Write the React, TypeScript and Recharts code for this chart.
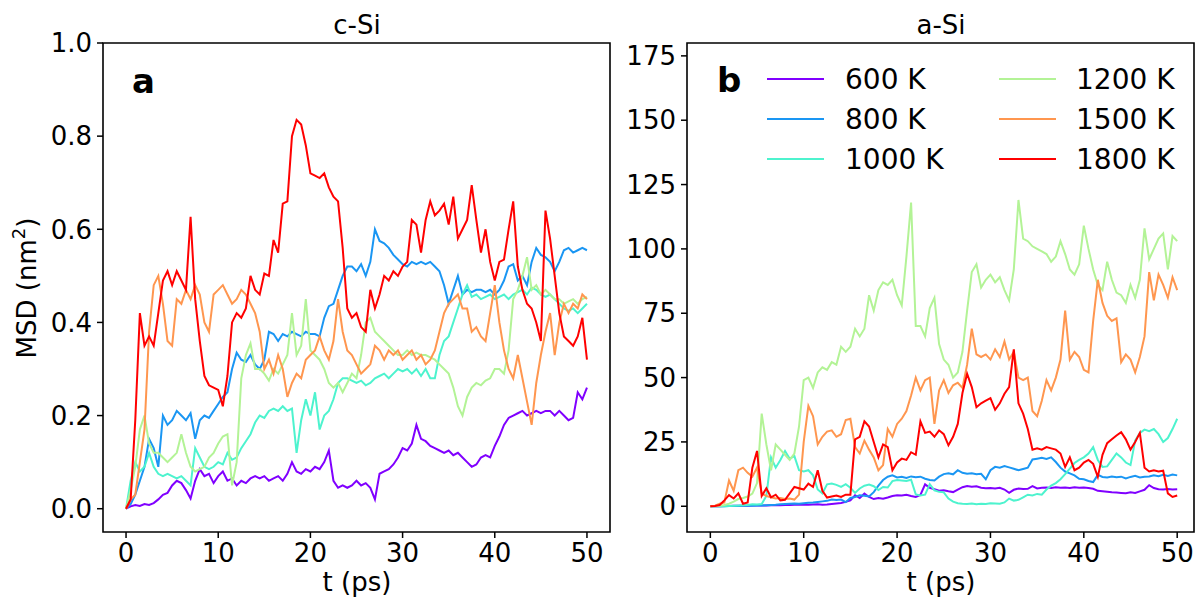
import { LineChart, Line, XAxis, YAxis, ReferenceArea } from 'recharts';

// time axis (ps), sampled every 0.5 ps
const time = [
  0, 0.5, 1, 1.5, 2, 2.5, 3, 3.5, 4, 4.5, 5, 5.5, 6, 6.5, 7, 7.5, 8, 8.5, 9, 9.5,
  10, 10.5, 11, 11.5, 12, 12.5, 13, 13.5, 14, 14.5, 15, 15.5, 16, 16.5, 17, 17.5, 18, 18.5, 19, 19.5,
  20, 20.5, 21, 21.5, 22, 22.5, 23, 23.5, 24, 24.5, 25, 25.5, 26, 26.5, 27, 27.5, 28, 28.5, 29, 29.5,
  30, 30.5, 31, 31.5, 32, 32.5, 33, 33.5, 34, 34.5, 35, 35.5, 36, 36.5, 37, 37.5, 38, 38.5, 39, 39.5,
  40, 40.5, 41, 41.5, 42, 42.5, 43, 43.5, 44, 44.5, 45, 45.5, 46, 46.5, 47, 47.5, 48, 48.5, 49, 49.5,
  50,
];

const temps = ['600 K', '800 K', '1000 K', '1200 K', '1500 K', '1800 K'];
const colors = ['#8000ff', '#1a96f3', '#4df3ce', '#b3f396', '#ff964f', '#ff0000'];

const xTicks = [0, 10, 20, 30, 40, 50];
const cSiTicks = [0, 0.2, 0.4, 0.6, 0.8, 1.0];
const aSiTicks = [0, 25, 50, 75, 100, 125, 150, 175];

// c-Si MSD (nm^2)
const c600 = [
  0, 0.005, 0.008, 0.006, 0.01, 0.008, 0.012, 0.02, 0.03, 0.034,
  0.05, 0.06, 0.055, 0.04, 0.022, 0.06, 0.085, 0.07, 0.075, 0.055,
  0.07, 0.08, 0.06, 0.065, 0.05, 0.06, 0.055, 0.065, 0.07, 0.065,
  0.07, 0.06, 0.065, 0.07, 0.06, 0.075, 0.1, 0.08, 0.075, 0.085,
  0.08, 0.09, 0.085, 0.1, 0.125, 0.06, 0.045, 0.05, 0.045, 0.05,
  0.06, 0.05, 0.055, 0.045, 0.02, 0.075, 0.08, 0.085, 0.095, 0.11,
  0.13, 0.125, 0.14, 0.18, 0.15, 0.145, 0.135, 0.13, 0.125, 0.12,
  0.125, 0.115, 0.12, 0.11, 0.1, 0.09, 0.095, 0.11, 0.115, 0.11,
  0.135, 0.155, 0.18, 0.195, 0.2, 0.205, 0.21, 0.2, 0.205, 0.21,
  0.205, 0.21, 0.21, 0.2, 0.21, 0.2, 0.19, 0.195, 0.25, 0.235,
  0.26,
];
const c800 = [
  0, 0.01, 0.03, 0.06, 0.09, 0.15, 0.13, 0.09, 0.2, 0.18,
  0.19, 0.21, 0.2, 0.19, 0.205, 0.15, 0.19, 0.2, 0.195, 0.21,
  0.225, 0.24, 0.25, 0.3, 0.335, 0.32, 0.315, 0.33, 0.31, 0.3,
  0.32, 0.38, 0.375, 0.36, 0.375, 0.37, 0.38, 0.375, 0.37, 0.38,
  0.375, 0.375, 0.37, 0.41, 0.435, 0.44, 0.47, 0.5, 0.52, 0.52,
  0.51, 0.525, 0.5, 0.53, 0.6, 0.575, 0.57, 0.56, 0.545, 0.535,
  0.525, 0.52, 0.53, 0.525, 0.53, 0.525, 0.53, 0.52, 0.51, 0.48,
  0.44, 0.47, 0.5, 0.46, 0.47, 0.465, 0.47, 0.47, 0.465, 0.47,
  0.46, 0.47, 0.49, 0.52, 0.525, 0.49, 0.5, 0.48, 0.53, 0.56,
  0.545, 0.54, 0.53, 0.51, 0.53, 0.555, 0.56, 0.55, 0.555, 0.56,
  0.555,
];
const c1000 = [
  0, 0.06, 0.1, 0.08, 0.09, 0.12, 0.09, 0.075, 0.07, 0.075,
  0.07, 0.065, 0.07, 0.06, 0.05, 0.13, 0.11, 0.09, 0.085, 0.09,
  0.1, 0.095, 0.12, 0.105, 0.11, 0.13, 0.145, 0.16, 0.185, 0.2,
  0.195, 0.21, 0.215, 0.21, 0.22, 0.21, 0.215, 0.12, 0.19, 0.235,
  0.2, 0.25, 0.17, 0.2, 0.21, 0.235, 0.27, 0.28, 0.28, 0.275,
  0.27, 0.275, 0.265, 0.27, 0.28, 0.285, 0.29, 0.28, 0.29, 0.3,
  0.295, 0.3, 0.29, 0.3, 0.285, 0.3, 0.28, 0.28, 0.33, 0.36,
  0.37, 0.4, 0.43, 0.46, 0.48, 0.455, 0.46, 0.45, 0.455, 0.46,
  0.45, 0.455, 0.46, 0.45, 0.46, 0.465, 0.47, 0.46, 0.475, 0.47,
  0.46, 0.455, 0.46, 0.45, 0.44, 0.43, 0.425, 0.43, 0.42, 0.43,
  0.44,
];
const c1200 = [
  0, 0.04, 0.09, 0.17, 0.2, 0.14, 0.12, 0.12, 0.11, 0.1,
  0.11, 0.12, 0.16, 0.12, 0.09, 0.08, 0.085, 0.09, 0.11, 0.12,
  0.14, 0.155, 0.16, 0.05, 0.1, 0.28, 0.33, 0.355, 0.3, 0.3,
  0.29, 0.275, 0.3, 0.29, 0.31, 0.33, 0.42, 0.33, 0.35, 0.45,
  0.34, 0.33, 0.32, 0.3, 0.27, 0.26, 0.27, 0.25, 0.27, 0.29,
  0.28, 0.33, 0.4, 0.41, 0.38, 0.37, 0.36, 0.35, 0.34, 0.33,
  0.33, 0.34, 0.33, 0.335, 0.33, 0.33, 0.325, 0.32, 0.31, 0.3,
  0.29, 0.26, 0.22, 0.2, 0.24, 0.26, 0.27, 0.265, 0.275, 0.28,
  0.3, 0.3, 0.29, 0.34, 0.45, 0.47, 0.5, 0.54, 0.47, 0.48,
  0.46, 0.47, 0.46, 0.45, 0.45, 0.44, 0.445, 0.45, 0.44, 0.45,
  0.455,
];
const c1500 = [
  0, 0.02, 0.03, 0.1, 0.17, 0.38, 0.48, 0.5, 0.44, 0.36,
  0.35, 0.45, 0.44, 0.47, 0.45, 0.48, 0.46, 0.4, 0.38, 0.46,
  0.47, 0.48, 0.46, 0.44, 0.45, 0.47, 0.46, 0.44, 0.42, 0.38,
  0.3, 0.32, 0.29, 0.33, 0.3, 0.24, 0.27, 0.29, 0.28, 0.32,
  0.33, 0.34, 0.37, 0.34, 0.32, 0.36, 0.45, 0.38, 0.34, 0.33,
  0.31, 0.29, 0.3, 0.31, 0.35, 0.34, 0.32, 0.34, 0.33, 0.34,
  0.32, 0.33, 0.34, 0.32, 0.33, 0.31, 0.32, 0.34, 0.38, 0.42,
  0.44, 0.45, 0.46, 0.43, 0.43, 0.38, 0.39, 0.37, 0.36, 0.42,
  0.48, 0.4, 0.34, 0.3, 0.28, 0.33, 0.28, 0.23, 0.18, 0.27,
  0.33, 0.38, 0.42, 0.33, 0.4, 0.44, 0.42, 0.44, 0.43, 0.46,
  0.45,
];
const c1800 = [
  0, 0.02, 0.19, 0.42, 0.35, 0.37, 0.35, 0.42, 0.49, 0.51,
  0.48, 0.51, 0.49, 0.47, 0.627, 0.45, 0.36, 0.285, 0.265, 0.26,
  0.255, 0.22, 0.285, 0.4, 0.42, 0.41, 0.43, 0.5, 0.47, 0.46,
  0.505, 0.5, 0.577, 0.55, 0.655, 0.66, 0.8, 0.835, 0.825, 0.78,
  0.72, 0.715, 0.71, 0.72, 0.69, 0.67, 0.66, 0.56, 0.43, 0.41,
  0.42, 0.39, 0.38, 0.47, 0.43, 0.46, 0.5, 0.49, 0.51, 0.5,
  0.52, 0.53, 0.62, 0.61, 0.55, 0.62, 0.66, 0.63, 0.64, 0.655,
  0.61, 0.67, 0.58, 0.6, 0.62, 0.695, 0.62, 0.55, 0.6, 0.53,
  0.49, 0.53, 0.535, 0.6, 0.66, 0.52, 0.47, 0.44, 0.43, 0.4,
  0.36, 0.64, 0.58, 0.5, 0.42, 0.37, 0.36, 0.35, 0.37, 0.41,
  0.32,
];

// a-Si MSD (nm^2)
const a600 = [
  0, 0, 0, 0.1, 0.1, 0.2, 0.2, 0.2, 0.2, 0.3,
  0.3, 0.3, 0.3, 0.4, 0.4, 0.4, 0.5, 0.5, 0.6, 0.6,
  0.7, 0.6, 0.7, 0.8, 0.6, 0.7, 0.9, 1.1, 1.3, 1.7,
  2.3, 4.3, 3.2, 4.9, 3.6, 2.8, 3.2, 2.9, 3.4, 4,
  4.3, 4.2, 4.5, 4, 3.6, 4.4, 8.5, 7.2, 6.6, 6,
  6.2, 5.8, 5.5, 6.5, 7.4, 7.9, 7.6, 7.8, 7.2, 7,
  7.1, 6.9, 7.2, 6.5, 5.2, 6.4, 6.9, 6.7, 6.8, 7.8,
  6.9, 7.2, 7.3, 7.1, 7.4, 7.2, 7.3, 7.1, 7.4, 7.2,
  7.3, 7.1, 6.8, 6, 5.8, 5.6, 5.4, 5.3, 5.2, 5.1,
  5.4, 5.2, 5.8, 6.4, 8.2, 7.1, 6.6, 6.5, 6.7, 6.5,
  6.6,
];
const a800 = [
  0, 0, 0, 0, 0.1, 0.1, 0.1, 0.2, 0.2, 0.2,
  0.3, 0.3, 0.4, 0.5, 0.6, 0.8, 0.9, 1, 1.1, 1,
  1.2, 1.4, 1.5, 1.7, 1.9, 2.1, 2.6, 2.4, 2.6, 1.6,
  3.2, 3.6, 4.3, 4.1, 3.8, 5.5, 8, 10.2, 11.5, 12,
  11.2, 11.5, 11, 11.6, 11.3, 11.5, 10.7, 10.2, 10, 11.5,
  12.5, 12.8, 12.4, 14, 13, 12.6, 12.8, 12.4, 12.6, 10.5,
  14, 15.3, 15, 15.6, 15.1, 14.6, 14, 14.5, 15, 18.2,
  18.5, 18.8, 18.4, 19, 17.2, 15, 13.5, 12.8, 12, 10.7,
  10.5, 9.8, 9.4, 12.2, 11.4, 11.2, 11.6, 11.3, 11.5, 10.8,
  11.4, 11.8, 11.2, 11.5, 11.6, 12, 11.7, 12.2, 11.8, 12.3,
  12,
];
const a1000 = [
  0, 0, 0, 0, 0.1, 0.2, 0.3, 0.4, 0.5, 0.8,
  0.7, 0.9, 4, 19, 15, 18, 21.5, 18.5, 19.5, 14,
  13.5, 14, 12, 6.5, 5, 8.5, 8.8, 8.3, 7.5, 8.6,
  7.2, 5.2, 6.9, 8, 8.4, 7.8, 6.3, 7.5, 7.3, 9.8,
  10.2, 10, 9.8, 10.3, 4.6, 4.2, 4.5, 8.6, 6.2, 5.6,
  5.4, 3, 1.8, 1.2, 1, 0.9, 1.1, 0.8, 1, 0.9,
  1.2, 1.1, 1, 1.5, 3, 2.2, 2.5, 3.5, 4.5, 4.2,
  4.8, 4.5, 6.5, 8, 9, 10.5, 12.5, 14.6, 16.8, 18,
  19, 20.5, 23, 18, 15.3, 15.5, 18, 20.5, 19, 17,
  16, 25.5, 28.5, 29.8, 29.2, 30, 28, 25, 26.5, 30,
  34,
];
const a1200 = [
  0, 0, 0.2, 0.5, 1, 1.8, 2.8, 3.2, 3.8, 4.9,
  9, 36, 24, 14, 24, 22, 20, 18, 20.5, 31,
  49, 50, 46, 52, 54, 53, 56, 55, 62, 60,
  62, 69, 66, 69, 82, 76, 84, 87, 86, 88,
  82, 78, 97, 118, 70, 70, 66, 77, 81, 63,
  57, 55, 50, 52, 60, 76, 91, 94, 85, 88,
  90, 87, 89, 84, 80, 92, 119, 104, 103, 101,
  100, 99, 98, 95, 97, 103, 98, 92, 90, 94,
  109, 100, 92, 86, 84, 95, 88, 83, 82, 79,
  86, 81, 88, 108, 96, 100, 104, 106, 92, 105,
  103,
];
const a1500 = [
  0, 0.2, 1, 1.5, 10, 6, 14, 15, 13, 11.5,
  15, 5, 4, 3.5, 3, 3.2, 2.8, 3, 2.6, 4.5,
  25, 39, 35, 24, 27, 29, 29.5, 27, 28, 33.5,
  34, 23, 20.5, 25.5, 22, 19, 14, 16, 30, 27,
  32, 34, 37, 43, 50, 45, 49, 50, 32, 45,
  49, 44, 47, 48, 46, 55, 69, 59, 58, 59,
  57, 61, 58, 64, 57, 60, 50, 49, 50, 37,
  35, 41, 49, 45, 50, 57, 76, 57, 60, 58,
  53, 52, 72, 88, 79, 74, 72, 73, 56, 59,
  57, 52, 58, 66, 91, 80, 90, 86, 81, 89,
  84,
];
const a1800 = [
  0, 0.1, 0.5, 2.3, 4.3, 3, 5, 1, 1.5, 15,
  21.5, 4, 7, 3.5, 4.5, 2.3, 2.5, 5, 7.5, 7,
  6.5, 8.8, 7.5, 14, 6, 3.4, 3.8, 4.2, 3.6, 4.5,
  4.5, 26, 27, 33, 31, 25, 19, 24, 23, 14,
  17, 18.5, 18, 21, 20, 33, 28.5, 29, 27, 29.5,
  28, 23.7, 27, 32, 44, 51.5, 46.3, 38.5, 40, 41,
  42, 37.5, 40, 43.7, 46.3, 61, 40, 36, 30, 22,
  22.5, 22, 23, 22.5, 22, 20.5, 15.3, 19, 14, 15,
  17, 18, 16.5, 11.4, 20, 24.5, 26, 27.5, 28.8, 26,
  22, 25, 28.5, 15, 13.5, 14, 13.5, 13.8, 5, 3.6,
  4.2,
];

const cSeries = [c600, c800, c1000, c1200, c1500, c1800];
const aSeries = [a600, a800, a1000, a1200, a1500, a1800];

function buildRows(series: number[][]) {
  return time.map((t, i) => {
    const row: Record<string, number> = { t };
    series.forEach((s, k) => {
      row['s' + k] = s[i];
    });
    return row;
  });
}

const cRows = buildRows(cSeries);
const aRows = buildRows(aSeries);

const FONT = 'DejaVu Sans, sans-serif';
const tickStyle = { fill: '#000', fontSize: 26, fontFamily: FONT };
const tickLine = { stroke: '#000', strokeWidth: 1.5 };

function Panel({
  rows,
  xDomain,
  yDomain,
  yTicks,
  yFormat,
  width,
  margin,
}: {
  rows: Record<string, number>[];
  xDomain: [number, number];
  yDomain: [number, number];
  yTicks: number[];
  yFormat: (v: number) => string;
  width: number;
  margin: { top: number; right: number; bottom: number; left: number };
}) {
  return (
    <LineChart width={width} height={601} data={rows} margin={margin}>
      <XAxis
        dataKey="t"
        type="number"
        domain={xDomain}
        ticks={xTicks}
        interval={0}
        allowDataOverflow
        axisLine={false}
        tickLine={tickLine}
        tickSize={6}
        tickMargin={6}
        tick={tickStyle}
        height={40}
      />
      <YAxis
        type="number"
        domain={yDomain}
        ticks={yTicks}
        interval={0}
        allowDataOverflow
        axisLine={false}
        tickLine={tickLine}
        tickSize={6}
        tickMargin={5}
        tick={tickStyle}
        tickFormatter={yFormat}
        width={60}
      />
      {temps.map((name, k) => (
        <Line
          key={name}
          type="linear"
          dataKey={'s' + k}
          name={name}
          stroke={colors[k]}
          strokeWidth={2}
          dot={false}
          isAnimationActive={false}
        />
      ))}
      <ReferenceArea
        x1={xDomain[0]}
        x2={xDomain[1]}
        y1={yDomain[0]}
        y2={yDomain[1]}
        fill="none"
        fillOpacity={0}
        stroke="#000"
        strokeWidth={1.6}
      />
    </LineChart>
  );
}

export default function App() {
  const legendCols = [
    { lineX: 767, textX: 845 },
    { lineX: 999, textX: 1076 },
  ];
  const legendRows = [79, 119, 159];
  return (
    <div
      style={{
        position: 'absolute',
        left: 0,
        top: 0,
        width: 1195,
        height: 601,
        background: '#fff',
        overflow: 'hidden',
      }}
    >
      <div style={{ position: 'absolute', left: 0, top: 0 }}>
        <Panel
          rows={cRows}
          xDomain={[-2.5, 52.5]}
          yDomain={[-0.05, 1.0]}
          yTicks={cSiTicks}
          yFormat={(v) => v.toFixed(1)}
          width={620}
          margin={{ top: 43, right: 10, bottom: 29, left: 43 }}
        />
      </div>
      <div style={{ position: 'absolute', left: 620, top: 0 }}>
        <Panel
          rows={aRows}
          xDomain={[-2.5, 51.8]}
          yDomain={[-10, 180]}
          yTicks={aSiTicks}
          yFormat={(v) => String(v)}
          width={575}
          margin={{ top: 43, right: 1, bottom: 29, left: 7 }}
        />
      </div>
      <svg
        width={1195}
        height={601}
        style={{ position: 'absolute', left: 0, top: 0, pointerEvents: 'none' }}
        fontFamily={FONT}
      >
        <text x={357} y={34} fontSize={26} textAnchor="middle">c-Si</text>
        <text x={941} y={34} fontSize={26} textAnchor="middle">a-Si</text>
        <text x={357} y={591} fontSize={26} textAnchor="middle">t (ps)</text>
        <text x={941} y={591} fontSize={26} textAnchor="middle">t (ps)</text>
        <text x={36} y={288} fontSize={26} textAnchor="middle" transform="rotate(-90 36 288)">
          MSD (nm<tspan fontSize={18} dy={-11}>2</tspan><tspan dy={11}>)</tspan>
        </text>
        <text x={132} y={93} fontSize={34} fontWeight="bold">a</text>
        <text x={717} y={92} fontSize={34} fontWeight="bold">b</text>
        {temps.map((name, k) => {
          const col = legendCols[Math.floor(k / 3)];
          const y = legendRows[k % 3];
          return (
            <g key={name}>
              <line x1={col.lineX} x2={col.lineX + 57} y1={y} y2={y} stroke={colors[k]} strokeWidth={2} />
              <text x={col.textX} y={y + 10} fontSize={28}>{name}</text>
            </g>
          );
        })}
      </svg>
    </div>
  );
}
